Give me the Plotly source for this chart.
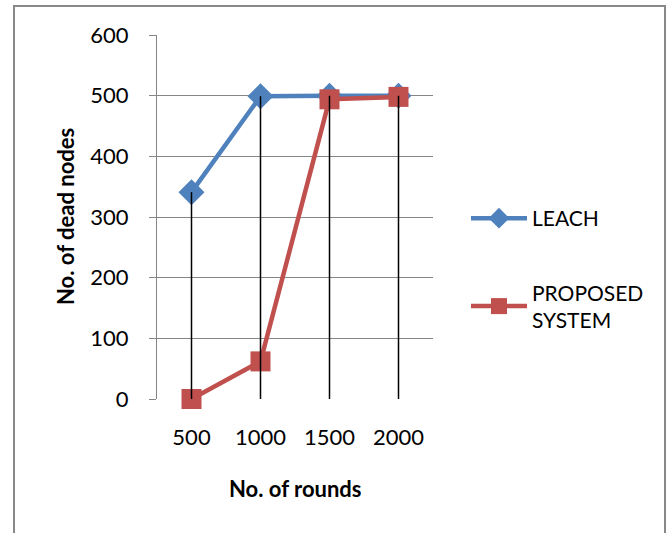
import plotly.graph_objects as go

rounds = ["500", "1000", "1500", "2000"]
leach = [341, 499, 500, 500]
proposed = [0, 62, 494, 498]
y_ticks = [0, 100, 200, 300, 400, 500, 600]

BLUE = "#4F81BD"
RED = "#C0504D"
GRID = "#868686"
FONT = "Lato"

fig = go.Figure()

fig.add_trace(go.Scatter(
    x=rounds, y=leach, name="LEACH", mode="lines+markers",
    line=dict(color=BLUE, width=4.5),
    marker=dict(symbol="diamond", size=20, color=BLUE),
    legendgroup="a", cliponaxis=False,
))
fig.add_trace(go.Scatter(
    x=rounds, y=proposed, name="PROPOSED<br>SYSTEM", mode="lines+markers",
    line=dict(color=RED, width=4.5),
    marker=dict(symbol="square", size=20, color=RED),
    legendgroup="b", cliponaxis=False,
))

# drop lines from the highest series value down to zero
drop_x, drop_y = [], []
for cat, a, b in zip(rounds, leach, proposed):
    drop_x += [cat, cat, None]
    drop_y += [max(a, b), 0, None]
fig.add_trace(go.Scatter(
    x=drop_x, y=drop_y, mode="lines", showlegend=False, hoverinfo="skip",
    line=dict(color="black", width=1.5), cliponaxis=False,
))

fig.update_layout(
    width=670, height=533,
    margin=dict(l=157, r=237, t=35, b=134),
    paper_bgcolor="white", plot_bgcolor="white",
    font=dict(family=FONT, size=22, color="black"),
    showlegend=True,
    legend=dict(
        x=(466 - 157) / 276, y=(399 - 198) / 364, xanchor="left", yanchor="top",
        font=dict(size=21), tracegroupgap=44, itemwidth=56,
        traceorder="grouped", bgcolor="rgba(0,0,0,0)",
    ),
    xaxis=dict(
        type="category", range=[-0.5, 3.5],
        showgrid=False, showline=False, zeroline=False,
        ticks="", ticklabelstandoff=23,
    ),
    yaxis=dict(
        range=[0, 600], tickvals=y_ticks,
        showgrid=True, gridcolor=GRID, gridwidth=1.3,
        zeroline=False,
        showline=True, linecolor=GRID, linewidth=1.3,
        ticks="outside", ticklen=7, tickcolor=GRID, tickwidth=1.3,
        ticklabelstandoff=16,
    ),
    shapes=[dict(
        type="rect", xref="paper", yref="paper",
        x0=(14 - 157) / 276, x1=(665 - 157) / 276,
        y0=(399 - 545) / 364, y1=(399 - 6) / 364,
        line=dict(color="#898989", width=2), layer="below",
    )],
    annotations=[
        dict(text="<b>No. of dead nodes</b>", textangle=-90,
             xref="paper", yref="paper", x=(65 - 157) / 276, y=0.5,
             xanchor="center", yanchor="middle", showarrow=False,
             font=dict(size=22)),
        dict(text="<b>No. of rounds</b>",
             xref="paper", yref="paper", x=0.5, y=(399 - 488) / 364,
             xanchor="center", yanchor="middle", showarrow=False,
             font=dict(size=22)),
    ],
)

fig.write_html("out.html")
